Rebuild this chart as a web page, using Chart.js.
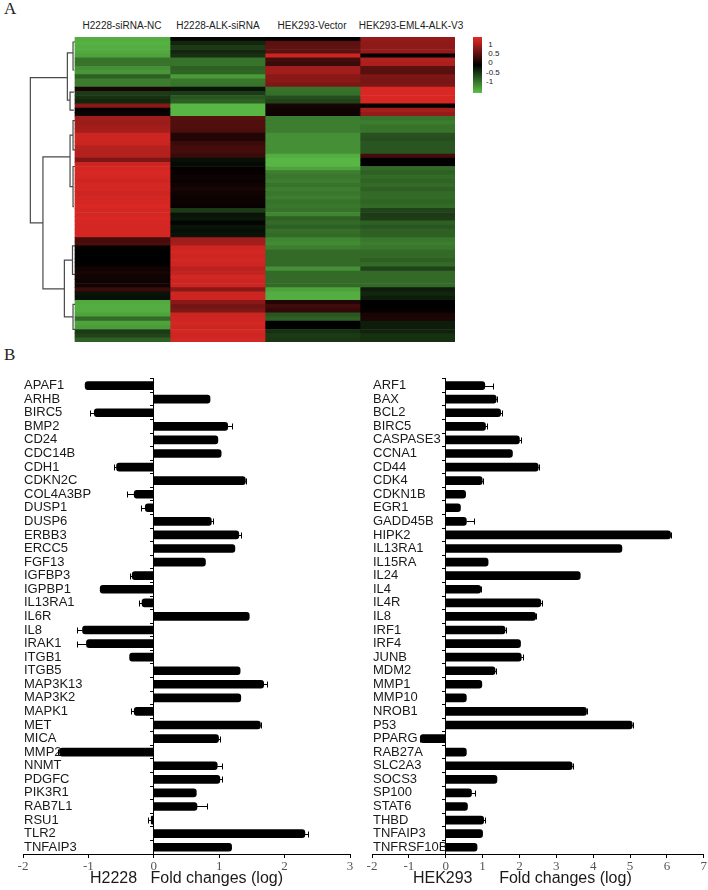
<!DOCTYPE html>
<html><head><meta charset="utf-8">
<script src="https://cdn.jsdelivr.net/npm/chart.js@4.4.1/dist/chart.umd.min.js"></script>
<style>
html,body{margin:0;padding:0;background:#fff;}
body{width:708px;height:890px;position:relative;overflow:hidden;font-family:"Liberation Sans",Arial,sans-serif;}
.panel{position:absolute;font-family:"Liberation Serif","Times New Roman",serif;font-size:17px;color:#222;line-height:18px;}
.hdr{position:absolute;top:20px;font-size:10px;line-height:12px;color:#222;white-space:nowrap;transform:translateX(-50%);}
.cb{position:absolute;left:486px;font-size:8px;line-height:8px;color:#222;white-space:nowrap;}
canvas{position:absolute;}
</style></head><body>
<div class="panel" style="left:4px;top:0px;">A</div>
<div class="panel" style="left:4px;top:346px;">B</div>
<div class="hdr" style="left:122px;">H2228-siRNA-NC</div>
<div class="hdr" style="left:218px;">H2228-ALK-siRNA</div>
<div class="hdr" style="left:312px;">HEK293-Vector</div>
<div class="hdr" style="left:411px;">HEK293-EML4-ALK-V3</div>
<div style="position:absolute;left:473px;top:37px;width:9px;height:56px;background:linear-gradient(to bottom, rgb(228,42,38), #000 50%, rgb(92,192,72));"></div>
<div class="cb" style="top:41px;">&nbsp;1</div>
<div class="cb" style="top:50px;">&nbsp;0.5</div>
<div class="cb" style="top:59px;">&nbsp;0</div>
<div class="cb" style="top:69px;">-0.5</div>
<div class="cb" style="top:78px;">-1</div>
<canvas id="heat" width="427" height="305" style="left:28px;top:37px;"></canvas>
<canvas id="left" width="360" height="520" style="left:0px;top:370px;"></canvas>
<canvas id="right" width="358" height="520" style="left:350px;top:370px;"></canvas>
<script>
// ---------- Heatmap data (rows top to bottom, z-scores) ----------
const heatColumns = ['H2228-siRNA-NC', 'H2228-ALK-siRNA', 'HEK293-Vector', 'HEK293-EML4-ALK-V3'];
const heatNC = [
 -0.9,-0.92,-0.9,-0.88,-0.85, -0.6,-0.6,-0.75,-0.78,-0.5,
 -0.65,-0.65,0.1,-0.3,-0.25, -0.2,0.6,0.03,0.05,0.7,
 0.68,0.7,0.72,0.9,0.9, 0.88,0.8,0.78,0.78,0.55,
 0.9,0.92,0.95,0.92,0.9, 0.92,0.92,0.9,0.93,0.92,
 0.95,0.93,0.92,0.95,0.94, 0.92,0.93,0.92,0.3,0.32,
 0.02,0.0,0.0,0.0,0.01, 0.08,0.1,0.08,0.06,0.08,
 0.25,-0.1,-0.08,-0.88,-0.9, -0.9,-0.85,-0.55,-0.85,-0.82,
 -0.3,-0.35,-0.5];
const heatALKsi = [
 -0.03,-0.2,-0.3,-0.2,-0.25, -0.6,-0.6,-0.5,-0.52,-0.8,
 -0.62,-0.6,-0.1,-0.3,-0.45, -0.5,-0.95,-0.95,-0.95,0.38,
 0.35,0.35,0.33,0.15,0.15, 0.25,0.3,0.3,0.25,-0.08,
 -0.05,0.02,0.03,0.06,0.04, 0.08,0.1,0.08,0.05,0.06,
 0.04,-0.3,-0.1,-0.12,-0.03, -0.1,-0.08,-0.1,0.7,0.72,
 0.9,0.92,0.9,0.92,0.9, 0.82,0.85,0.92,0.9,0.9,
 0.6,0.9,0.9,0.6,0.5, 0.55,0.88,0.9,0.92,0.9,
 0.92,0.9,0.92];
const heatVector = [
 0.0,0.4,0.42,0.4,0.9, 0.3,0.25,0.7,0.7,0.6,
 0.6,0.55,-0.6,-0.58,-0.4, -0.35,0.1,0.08,0.06,-0.65,
 -0.65,-0.65,-0.65,-0.75,-0.75, -0.75,-0.75,-0.75,-0.9,-0.95,
 -0.95,-0.85,-0.65,-0.62,-0.65, -0.6,-0.65,-0.62,-0.65,-0.6,
 -0.62,-0.6,-0.7,-0.5,-0.55, -0.5,-0.58,-0.55,-0.7,-0.72,
 -0.65,-0.55,-0.55,-0.55,-0.55, -0.75,-0.55,-0.55,-0.55,-0.55,
 -0.85,-0.9,-0.9,0.15,0.28, 0.22,-0.45,-0.5,0.0,-0.02,
 -0.25,-0.3,-0.28];
const heatEML4 = [
 0.65,0.62,0.62,0.65,0.0, 0.78,0.75,0.4,0.38,0.55,
 0.52,0.55,0.95,0.95,0.95, 0.95,0.0,0.72,0.65,-0.6,
 -0.65,-0.6,-0.6,-0.42,-0.4, -0.45,-0.45,-0.45,0.3,0.0,
 0.0,-0.55,-0.5,-0.55,-0.52, -0.55,-0.5,-0.55,-0.55,-0.52,
 -0.55,-0.35,-0.3,-0.32,-0.5, -0.45,-0.5,-0.5,-0.62,-0.65,
 -0.62,-0.55,-0.55,-0.5,-0.55, -0.35,-0.55,-0.55,-0.55,-0.55,
 -0.15,-0.2,-0.15,0.0,0.0, 0.02,0.1,0.12,-0.15,-0.15,
 -0.18,-0.25,-0.25];

// Dendrogram merges: rows given as positions in row units from top edge; heights normalised (root = 1)
const dendroTopRow    = [9.7, 3.8, 1.2, 13.2, 28.7, 23.5, 53.4, 20, 31, 50, 64];
const dendroBottomRow = [44.5, 15.1, 7.9, 17.5, 60.3, 35.8, 67, 27, 40.6, 56.8, 70];
const dendroHeight    = [1.0, 0.171, 0.044, 0.111, 0.718, 0.111, 0.238, 0.044, 0.044, 0.056, 0.044];
const dendroTopChild  = [0.171, 0.044, 0, 0.022, 0.111, 0.044, 0.056, 0, 0, 0, 0];
const dendroBotChild  = [0.718, 0.111, 0.018, 0.022, 0.238, 0.044, 0.044, 0, 0.022, 0, 0];

// ---------- Bar chart data ----------
const h2228Genes = ['APAF1','ARHB','BIRC5','BMP2','CD24','CDC14B','CDH1','CDKN2C','COL4A3BP','DUSP1','DUSP6','ERBB3','ERCC5','FGF13','IGFBP3','IGPBP1','IL13RA1','IL6R','IL8','IRAK1','ITGB1','ITGB5','MAP3K13','MAP3K2','MAPK1','MET','MICA','MMP2','NNMT','PDGFC','PIK3R1','RAB7L1','RSU1','TLR2','TNFAIP3'];
const h2228Values = [-1.05,0.86,-0.91,1.13,0.98,1.03,-0.57,1.40,-0.30,-0.13,0.88,1.30,1.24,0.79,-0.33,-0.82,-0.18,1.46,-1.09,-1.03,-0.37,1.32,1.68,1.33,-0.30,1.63,0.99,-1.44,0.97,1.01,0.65,0.66,-0.04,2.31,1.19];
const h2228Errors = [0,0,0.07,0.06,0,0,0.04,0.01,0.11,0.06,0.03,0.03,0,0,0.04,0,0.05,0,0.08,0.14,0,0,0.05,0,0.05,0.01,0.02,0.03,0.08,0.03,0,0.15,0.05,0.05,0];
const hekGenes = ['ARF1','BAX','BCL2','BIRC5','CASPASE3','CCNA1','CD44','CDK4','CDKN1B','EGR1','GADD45B','HIPK2','IL13RA1','IL15RA','IL24','IL4','IL4R','IL8','IRF1','IRF4','JUNB','MDM2','MMP1','MMP10','NROB1','P53','PPARG','RAB27A','SLC2A3','SOCS3','SP100','STAT6','THBD','TNFAIP3','TNFRSF10B'];
const hekValues = [1.06,1.37,1.49,1.08,2.00,1.81,2.51,0.99,0.54,0.40,0.56,6.10,4.78,1.15,3.65,0.95,2.58,2.44,1.61,2.03,2.05,1.34,0.98,0.56,3.82,5.06,-0.69,0.56,3.43,1.39,0.70,0.59,1.03,1.00,0.85];
const hekErrors = [0.21,0.02,0.03,0.05,0.03,0,0.02,0.02,0,0,0.21,0.02,0,0,0,0.02,0.03,0.02,0.02,0,0.05,0.02,0,0,0.02,0.02,0.02,0,0.02,0,0.10,0,0.03,0,0];
const xTicksLeft = [-2, 3];
const xTicksRight = [-2, 7];

// ---------- Heatmap ----------
function heatColor(v) {
  const a = Math.min(1, Math.abs(v));
  if (v >= 0) return `rgb(${Math.round(228*a)},${Math.round(42*a)},${Math.round(38*a)})`;
  return `rgb(${Math.round(92*a)},${Math.round(192*a)},${Math.round(72*a)})`;
}
const heatData = [heatNC, heatALKsi, heatVector, heatEML4];
const rowLabels = heatNC.map((_, i) => 'r' + (i + 1));
const DENDRO_W = 0.47;

const dendroPlugin = {
  id: 'dendro',
  afterDatasetsDraw(chart) {
    const {ctx, scales: {x, y}} = chart;
    const px = h => x.getPixelForValue(-h * DENDRO_W);
    const py = r => y.getPixelForValue(r - 0.5);
    ctx.save();
    ctx.strokeStyle = '#4a4a4a';
    ctx.lineWidth = 1.2;
    ctx.beginPath();
    dendroTopRow.forEach((t, i) => {
      const b = dendroBottomRow[i], h = dendroHeight[i];
      ctx.moveTo(px(dendroTopChild[i]), py(t));
      ctx.lineTo(px(h), py(t));
      ctx.lineTo(px(h), py(b));
      ctx.lineTo(px(dendroBotChild[i]), py(b));
    });
    ctx.stroke();
    ctx.restore();
  }
};

new Chart(document.getElementById('heat'), {
  type: 'bar',
  data: {
    labels: rowLabels,
    datasets: heatData.map((vals, c) => ({
      label: heatColumns[c],
      data: vals.map(() => [c, c + 1]),
      backgroundColor: vals.map(heatColor),
      borderWidth: 0,
      grouped: false,
      barPercentage: 1,
      categoryPercentage: 1
    }))
  },
  options: {
    indexAxis: 'y', responsive: false, animation: false,
    layout: { padding: 0 },
    plugins: { legend: { display: false }, tooltip: { enabled: false } },
    scales: {
      x: { type: 'linear', min: -0.4947, max: 4, display: false },
      y: { type: 'category', display: false, offset: true }
    }
  },
  plugins: [dendroPlugin]
});

// ---------- Bar charts ----------
const errorBarPlugin = {
  id: 'errorBars',
  afterDatasetsDraw(chart, args, opts) {
    const errs = opts.errs;
    if (!errs) return;
    const {ctx, scales: {x, y}} = chart;
    const vals = chart.data.datasets[0].data;
    ctx.save();
    ctx.strokeStyle = '#000';
    ctx.lineWidth = 1;
    for (let i = 0; i < vals.length; i++) {
      const v = vals[i], e = errs[i];
      if (!e) continue;
      const s = v < 0 ? -1 : 1;
      const x1 = x.getPixelForValue(v), x2 = Math.round(x.getPixelForValue(v + s * e)) + 0.5;
      const yc = Math.round(y.getPixelForValue(i)) + 0.5;
      ctx.beginPath();
      ctx.moveTo(x1, yc); ctx.lineTo(x2, yc);
      ctx.moveTo(x2, yc - 3); ctx.lineTo(x2, yc + 3);
      ctx.stroke();
    }
    ctx.restore();
  }
};

function barChart(id, labels, values, errs, xr, title, padLeft, padRight) {
  return new Chart(document.getElementById(id), {
    type: 'bar',
    data: { labels, datasets: [{ data: values, backgroundColor: '#000', barThickness: 8, borderRadius: 3, borderSkipped: 'start' }] },
    options: {
      indexAxis: 'y', responsive: false, animation: false,
      layout: { padding: { left: padLeft, right: padRight, top: 8, bottom: 0 } },
      plugins: { legend: { display: false }, tooltip: { enabled: false }, errorBars: { errs } },
      scales: {
        x: {
          type: 'linear', min: xr[0], max: xr[1],
          ticks: { stepSize: 1, color: '#555', font: { family: '"Liberation Serif"', size: 13 }, padding: 1 },
          grid: { drawOnChartArea: false, drawTicks: true, tickLength: 4, color: '#000' },
          border: { display: true, color: '#000', width: 1 },
          title: { display: true, text: title, color: '#1a1a1a', font: { family: '"Liberation Sans"', size: 16 }, padding: { top: 0, bottom: 2 } },
          afterFit: s => { s.height = 36; }
        },
        y: {
          type: 'category', position: 'left',
          ticks: { mirror: true, padding: 1, autoSkip: false, color: '#1a1a1a', font: { family: '"Liberation Sans"', size: 13 } },
          grid: { display: false, drawTicks: false },
          border: { display: false }
        },
        yz: {
          type: 'category', axis: 'y', position: { x: 0 },
          ticks: { display: false, autoSkip: false },
          grid: { drawOnChartArea: false, drawTicks: true, tickLength: 3, offset: true, color: '#000' },
          border: { display: true, color: '#000', width: 1 }
        }
      }
    },
    plugins: [errorBarPlugin]
  });
}

barChart('left', h2228Genes, h2228Values, h2228Errors, xTicksLeft, 'H2228   Fold changes (log)', 21, 10);
barChart('right', hekGenes, hekValues, hekErrors, xTicksRight, 'HEK293      Fold changes (log)       ', 20, 3);
</script>
</body></html>
